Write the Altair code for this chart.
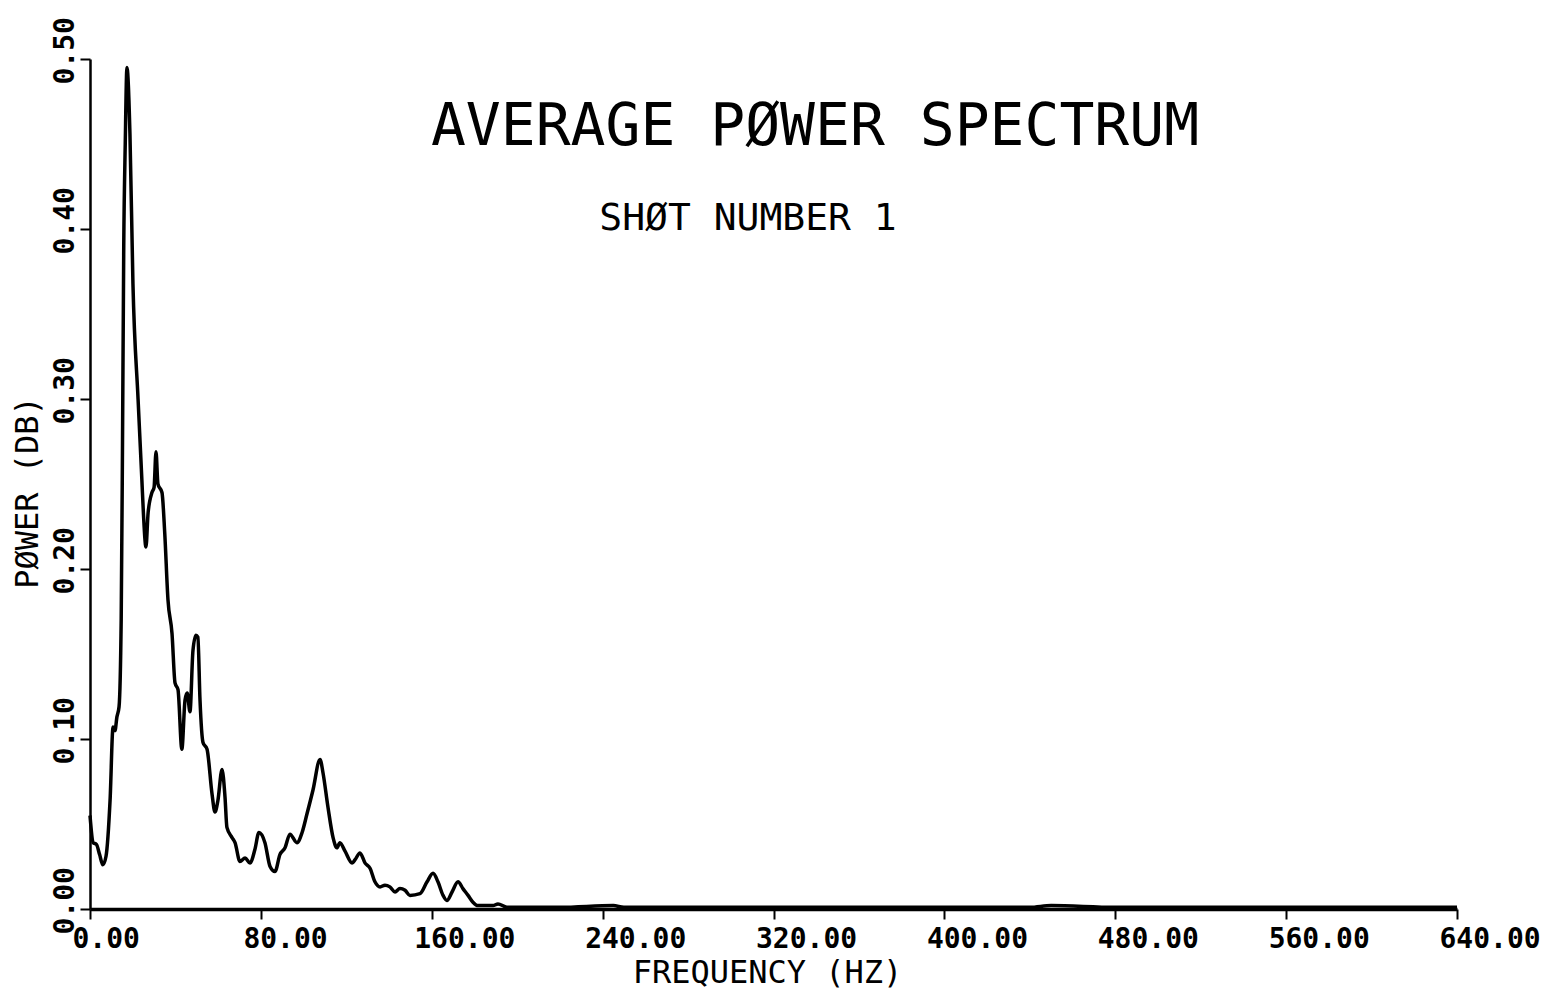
import altair as alt
import pandas as pd

# ---- data ----
freq_hz = [0, 1.5, 3, 4.5, 6, 7.5, 9.4, 10.8, 11.7, 12.6, 13.6, 14.6, 15.2, 15.8, 16.5, 17.3,
           18.7, 20.1, 22.5, 23.4, 24.3, 25.0, 26.2, 27.2, 29.0, 30.0, 30.9, 31.8, 33.7, 35.0,
           36.5, 38.4, 39.8, 41.2, 43.0, 44.5, 45.5, 46.8, 48.2, 49.6, 50.5, 51.5, 52.9, 54.8,
           57.1, 58.5, 59.9, 61.8, 63.2, 64.1, 66.5, 67.9, 70.2, 72.6, 74.9, 77.2, 79.1, 81.9,
           84.3, 86.6, 88.9, 91.3, 93.6, 96.9, 99.3, 101.6, 104.4, 107.7, 109.1, 111.4, 113.8,
           115.6, 117.0, 119.4, 122.7, 124.1, 126.4, 128.8, 131.1, 133.4, 135.8, 138.1, 140.4,
           142.8, 145.1, 147.5, 149.8, 154.5, 157.8, 160.6, 162.9, 165.3, 167.1, 169.5, 172.3,
           174.6, 177.0, 179.3, 181.6, 185.0, 188.7, 191.0, 195.2, 200, 220, 245, 250, 280,
           320, 360, 400, 440, 450, 480, 520, 560, 600, 640]
power_db = [0.055, 0.039, 0.038, 0.032, 0.026, 0.031, 0.064, 0.107, 0.105, 0.113, 0.119, 0.17,
            0.27, 0.39, 0.45, 0.495, 0.456, 0.368, 0.30, 0.276, 0.252, 0.233, 0.213, 0.233,
            0.245, 0.248, 0.269, 0.250, 0.245, 0.221, 0.182, 0.162, 0.133, 0.129, 0.094, 0.123,
            0.127, 0.116, 0.152, 0.161, 0.160, 0.123, 0.098, 0.094, 0.068, 0.057, 0.064, 0.082,
            0.066, 0.048, 0.042, 0.039, 0.028, 0.030, 0.027, 0.035, 0.045, 0.039, 0.025, 0.022,
            0.032, 0.036, 0.044, 0.039, 0.045, 0.056, 0.070, 0.088, 0.080, 0.060, 0.042, 0.036,
            0.039, 0.034, 0.027, 0.029, 0.033, 0.027, 0.024, 0.016, 0.013, 0.014, 0.013, 0.010,
            0.012, 0.011, 0.008, 0.009, 0.016, 0.021, 0.016, 0.008, 0.005, 0.010, 0.016, 0.012,
            0.008, 0.004, 0.002, 0.002, 0.002, 0.003, 0.001, 0.001, 0.001, 0.002, 0.001, 0.001,
            0.001, 0.001, 0.001, 0.001, 0.002, 0.001, 0.001, 0.001, 0.001, 0.001]

x_tick_values = [0, 80, 160, 240, 320, 400, 480, 560, 640]
y_tick_values = [0.0, 0.1, 0.2, 0.3, 0.4, 0.5]

main_title = "AVERAGE PØWER SPECTRUM"
sub_title = "SHØT NUMBER 1"
x_title = "FREQUENCY (HZ)"
y_title = "PØWER (DB)"

FONT = "DejaVu Sans Mono"

df = pd.DataFrame({"freq": freq_hz, "power": power_db})

line = alt.Chart(df).mark_line(color="black", strokeWidth=3.5, interpolate="monotone").encode(
    x=alt.X("freq:Q",
            scale=alt.Scale(domain=[0, 640], nice=False, zero=False),
            axis=alt.Axis(values=x_tick_values, format=".2f", title=x_title, grid=False,
                          domainColor="black", domainWidth=3.5, tickColor="black", tickWidth=2,
                          tickSize=10, labelFont=FONT, labelFontSize=28, labelFontWeight="bold",
                          labelColor="black", labelAlign="left", labelOffset=-18,
                          labelBaseline="alphabetic", labelPadding=28, labelFlush=False,
                          labelOverlap=False, titleFont=FONT, titleFontSize=32,
                          titleFontWeight="normal", titleColor="black", titleX=677, titleY=73,
                          titleBaseline="alphabetic", titleAlign="center")),
    y=alt.Y("power:Q",
            scale=alt.Scale(domain=[0, 0.5], nice=False, zero=False),
            axis=alt.Axis(values=y_tick_values, format=".2f", title=y_title, grid=False,
                          domainColor="black", domainWidth=2.5, tickColor="black", tickWidth=2,
                          tickSize=10, labelFont=FONT, labelFontSize=28, labelFontWeight="bold",
                          labelColor="black", labelAngle=270, labelAlign="left", labelOffset=25,
                          labelBaseline="alphabetic", labelPadding=7, labelFlush=False,
                          labelOverlap=False, titleFont=FONT, titleFontSize=32,
                          titleFontWeight="normal", titleColor="black", titleAngle=270,
                          titleX=-53, titleY=433, titleBaseline="alphabetic",
                          titleAlign="center")),
)

title_df = pd.DataFrame({"t": [main_title]})
sub_df = pd.DataFrame({"t": [sub_title]})

title_mark = alt.Chart(title_df).mark_text(
    font=FONT, fontSize=58, color="black", align="center", baseline="alphabetic"
).encode(x=alt.value(725), y=alt.value(86), text="t:N")

sub_mark = alt.Chart(sub_df).mark_text(
    font=FONT, fontSize=38, color="black", align="center", baseline="alphabetic"
).encode(x=alt.value(658), y=alt.value(171), text="t:N")

chart = alt.layer(line, title_mark, sub_mark).properties(
    width=1367, height=850,
    autosize=alt.AutoSizeParams(type="none"),
    padding={"left": 82, "top": 51, "right": 86, "bottom": 86},
    background="white",
).configure_view(stroke=None)

chart.save("out.html", embed_options={"renderer": "svg", "actions": False})
